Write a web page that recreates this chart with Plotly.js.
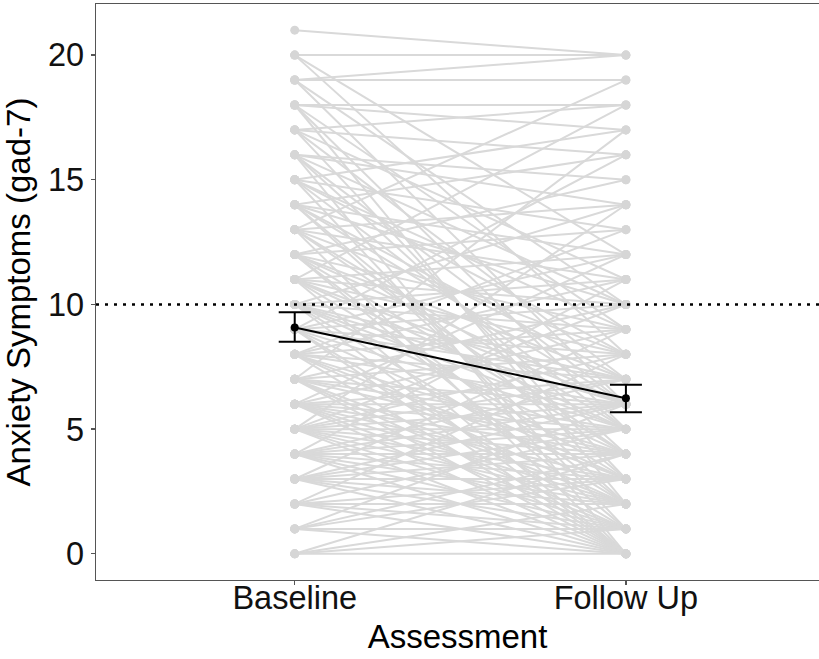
<!DOCTYPE html>
<html><head><meta charset="utf-8">
<script src="https://cdn.plot.ly/plotly-3.0.1.min.js"></script>
<style>body{margin:0;padding:0;background:#fff}#chart{width:819px;height:659px}</style>
</head><body><div id="chart"></div>
<script>
const categories = ['Baseline', 'Follow Up'];

// individual participants: GAD-7 at baseline and at follow up
const baseline = [
  21,
  20, 20, 20,
  19, 19, 19, 19,
  18, 18, 18, 18, 18,
  17, 17, 17, 17, 17,
  16, 16, 16, 16, 16, 16,
  15, 15, 15, 15, 15, 15,
  14, 14, 14, 14, 14, 14, 14,
  13, 13, 13, 13, 13, 13, 13,
  12, 12, 12, 12, 12, 12, 12, 12,
  11, 11, 11, 11, 11, 11, 11, 11,
  10, 10, 10, 10, 10, 10, 10, 10, 10,
  9, 9, 9, 9, 9, 9, 9, 9, 9,
  8, 8, 8, 8, 8, 8, 8, 8, 8,
  7, 7, 7, 7, 7, 7, 7, 7, 7,
  6, 6, 6, 6, 6, 6, 6, 6, 6, 6,
  5, 5, 5, 5, 5, 5, 5, 5, 5, 5, 5,
  4, 4, 4, 4, 4, 4, 4, 4, 4,
  3, 3, 3, 3, 3, 3, 3, 3,
  2, 2, 2, 2, 2, 2,
  1, 1, 1, 1, 1,
  0, 0, 0, 0
];
const followUp = [
  20,
  20, 12, 8,
  20, 19, 10, 6,
  18, 17, 9, 5, 2,
  18, 16, 11, 7, 3,
  15, 14, 10, 6, 4, 0,
  17, 13, 9, 8, 5, 1,
  16, 12, 10, 7, 6, 3, 2,
  19, 14, 11, 8, 5, 4, 0,
  15, 13, 9, 7, 6, 4, 2, 1,
  18, 12, 10, 8, 6, 5, 3, 0,
  14, 11, 9, 7, 6, 5, 4, 2, 0,
  16, 12, 10, 8, 7, 5, 3, 1, 0,
  13, 11, 9, 7, 6, 4, 3, 2, 0,
  17, 10, 8, 6, 5, 4, 2, 1, 0,
  12, 9, 7, 6, 5, 3, 2, 0, 4, 1,
  14, 10, 8, 6, 5, 4, 3, 1, 0, 2, 7,
  11, 7, 5, 4, 3, 2, 0, 6, 1,
  9, 6, 4, 3, 1, 0, 2, 5,
  8, 5, 2, 0, 3, 1,
  6, 3, 0, 1, 4,
  4, 0, 2, 1
];

// group means with 95% CI
const meanValues = [9.08, 6.24];
const ciLower = [8.50, 5.68];
const ciUpper = [9.69, 6.78];

const yTicks = [0, 5, 10, 15, 20];
const cutoff = 10;

const xs = [], ys = [];
for (let i = 0; i < baseline.length; i++) {
  xs.push(categories[0], categories[1], null);
  ys.push(baseline[i], followUp[i], null);
}

const traces = [
  {
    type: 'scatter', mode: 'lines+markers', x: xs, y: ys,
    connectgaps: false,
    line: {color: '#d9d9d9', width: 2},
    marker: {color: '#d6d6d6', size: 9},
    hoverinfo: 'skip', showlegend: false
  },
  {
    type: 'scatter', mode: 'lines+markers', x: categories, y: meanValues,
    line: {color: '#000', width: 2},
    marker: {color: '#000', size: 8},
    error_y: {
      type: 'data', symmetric: false,
      array: ciUpper.map((u, i) => u - meanValues[i]),
      arrayminus: meanValues.map((m, i) => m - ciLower[i]),
      color: '#000', thickness: 2, width: 16
    },
    showlegend: false
  }
];

const font = 'Liberation Sans, Arial, sans-serif';
const layout = {
  width: 819, height: 659,
  margin: {l: 96, r: 0, t: 4, b: 79, pad: 0},
  paper_bgcolor: '#fff', plot_bgcolor: '#fff',
  showlegend: false,
  font: {family: font, color: '#000'},
  xaxis: {
    type: 'category', range: [-0.6, 1.583],
    showgrid: false, zeroline: false,
    showline: true, mirror: true, linecolor: '#555', linewidth: 1.3,
    ticks: 'outside', ticklen: 4, tickcolor: '#555', tickwidth: 1.3,
    ticklabelstandoff: -15,
    tickfont: {size: 32.5, family: font, color: '#111'},
    title: {text: 'Assessment', font: {size: 33, family: font, color: '#000'}, standoff: 9},
    automargin: false
  },
  yaxis: {
    range: [-1.05, 22.05], tickvals: yTicks,
    showgrid: false, zeroline: false,
    showline: true, mirror: false, linecolor: '#555', linewidth: 1.3,
    ticks: 'outside', ticklen: 4, tickcolor: '#555', tickwidth: 1.3,
    tickfont: {size: 32.5, family: font, color: '#111'},
    title: {text: 'Anxiety Symptoms (gad-7)', font: {size: 33, family: font, color: '#000'}, standoff: 8},
    automargin: true
  },
  shapes: [{
    type: 'line', xref: 'paper', x0: 0, x1: 1, yref: 'y', y0: cutoff, y1: cutoff,
    line: {color: '#000', width: 2.5, dash: '3px,6px'}, layer: 'above'
  }]
};

Plotly.newPlot('chart', traces, layout, {displayModeBar: false, staticPlot: true});
</script>
</body></html>
